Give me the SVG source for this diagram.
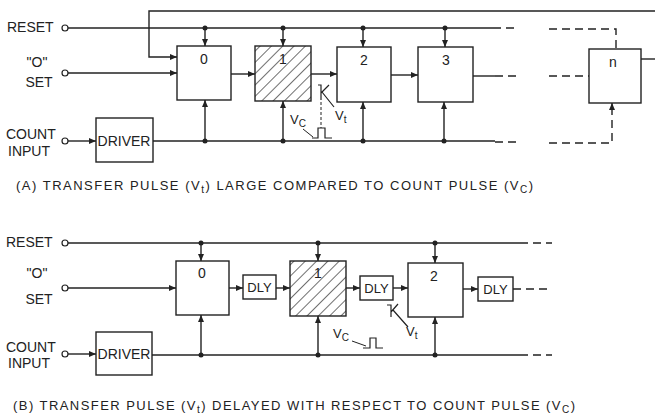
<svg xmlns="http://www.w3.org/2000/svg" width="655" height="417" viewBox="0 0 655 417">
<style>
.ln{stroke:#222;stroke-width:1.4;fill:none}
.ds{stroke-dasharray:8 5}
.dd{stroke-dasharray:3 2;stroke-width:1}
.box{fill:#fff;stroke:#222;stroke-width:1.4}
.hatch{fill:url(#hp);stroke:#222;stroke-width:1.4}
.t{font-family:"Liberation Sans",Arial,sans-serif;fill:#222;font-size:14px}
.lb{font-size:14px;text-anchor:middle}
.dl{font-size:13px;text-anchor:middle}
.sm{font-size:13px}
.sub{font-size:10px}
.cap{font-size:13px}
.dot{fill:#222}
.term{fill:#fff;stroke:#222;stroke-width:1.2}
</style>
<defs>
<marker id="ar" markerWidth="7" markerHeight="6" refX="7" refY="3" orient="auto" markerUnits="userSpaceOnUse">
<path d="M0,0 L7,3 L0,6 z" fill="#222"/>
</marker>
<pattern id="hp" width="8" height="8" patternUnits="userSpaceOnUse" patternTransform="rotate(45)">
<rect width="8" height="8" fill="#fff"/>
<line x1="0" y1="0" x2="0" y2="8" stroke="#222" stroke-width="1.3"/>
</pattern>
</defs>
<rect width="655" height="417" fill="#fff"/>

<g id="connectors">
<!-- A -->
<path class="ln" d="M68,28 H493"/>
<path class="ln ds" d="M493,28 H519 M549,29 H616 V49"/>
<path class="ln" d="M205,28 V46" marker-end="url(#ar)"/>
<path class="ln" d="M283,28 V46" marker-end="url(#ar)"/>
<path class="ln" d="M363,28 V47" marker-end="url(#ar)"/>
<path class="ln" d="M445,28 V47" marker-end="url(#ar)"/>
<path class="ln" d="M655,11 H149 V57 H177" marker-end="url(#ar)"/>
<path class="ln" d="M68,73 H177" marker-end="url(#ar)"/>
<path class="ln" d="M231,74 H255" marker-end="url(#ar)"/>
<path class="ln" d="M311,74 H337" marker-end="url(#ar)"/>
<path class="ln" d="M391,75 H418" marker-end="url(#ar)"/>
<path class="ln" d="M473,76 H495"/>
<path class="ln ds" d="M495,76 H519 M549,76 H589"/>
<path class="ln" d="M641,59 H655"/>
<path class="ln" d="M68,141 H96" marker-end="url(#ar)"/>
<path class="ln" d="M153,141 H495"/>
<path class="ln ds" d="M495,142 H519 M549,143 H612 V104"/>
<path class="ln" d="M612,110 V103" marker-end="url(#ar)"/>
<path class="ln" d="M205,141 V100" marker-end="url(#ar)"/>
<path class="ln" d="M283,141 V101" marker-end="url(#ar)"/>
<path class="ln" d="M363,141 V102" marker-end="url(#ar)"/>
<path class="ln" d="M444,141 V102" marker-end="url(#ar)"/>
<!-- B -->
<path class="ln" d="M68,243 H520"/>
<path class="ln ds" d="M520,243 H552"/>
<path class="ln" d="M201,243 V261" marker-end="url(#ar)"/>
<path class="ln" d="M318,243 V261" marker-end="url(#ar)"/>
<path class="ln" d="M435,243 V263" marker-end="url(#ar)"/>
<path class="ln" d="M68,288 H176" marker-end="url(#ar)"/>
<path class="ln" d="M229,288 H243" marker-end="url(#ar)"/>
<path class="ln" d="M276,288 H290" marker-end="url(#ar)"/>
<path class="ln" d="M346,288 H360" marker-end="url(#ar)"/>
<path class="ln" d="M393,288 H408" marker-end="url(#ar)"/>
<path class="ln" d="M463,289 H478" marker-end="url(#ar)"/>
<path class="ln ds" d="M513,289 H552"/>
<path class="ln" d="M68,354 H96" marker-end="url(#ar)"/>
<path class="ln" d="M152,355 H520"/>
<path class="ln ds" d="M520,355 H552"/>
<path class="ln" d="M201,355 V315" marker-end="url(#ar)"/>
<path class="ln" d="M318,355 V316" marker-end="url(#ar)"/>
<path class="ln" d="M435,355 V317" marker-end="url(#ar)"/>
<!-- junction dots -->
<circle class="dot" cx="205" cy="28" r="2.5"/>
<circle class="dot" cx="283" cy="28" r="2.5"/>
<circle class="dot" cx="363" cy="28" r="2.5"/>
<circle class="dot" cx="445" cy="28" r="2.5"/>
<circle class="dot" cx="205" cy="141" r="2.5"/>
<circle class="dot" cx="283" cy="141" r="2.5"/>
<circle class="dot" cx="363" cy="141" r="2.5"/>
<circle class="dot" cx="444" cy="141" r="2.5"/>
<circle class="dot" cx="201" cy="243" r="2.5"/>
<circle class="dot" cx="318" cy="243" r="2.5"/>
<circle class="dot" cx="435" cy="243" r="2.5"/>
<circle class="dot" cx="201" cy="355" r="2.5"/>
<circle class="dot" cx="318" cy="355" r="2.5"/>
<circle class="dot" cx="435" cy="355" r="2.5"/>
</g>

<g id="inputs-a">
<circle class="term" cx="65" cy="28" r="3"/>
<circle class="term" cx="65" cy="73" r="3"/>
<circle class="term" cx="65" cy="141" r="3"/>
<text class="t" x="7" y="32">RESET</text>
<text class="t" x="37" y="67" text-anchor="middle">"O"</text>
<text class="t" x="39" y="87" text-anchor="middle">SET</text>
<text class="t" x="6" y="139">COUNT</text>
<text class="t" x="8" y="156">INPUT</text>
</g>
<g id="driver-a">
<rect class="box" x="96" y="118" width="57" height="44"/>
<text class="t lb" x="124" y="146">DRIVER</text>
</g>
<g id="a0"><rect class="box" x="177" y="46" width="54" height="54"/><text class="t lb" x="204" y="64">0</text></g>
<g id="a1"><rect class="hatch" x="255" y="46" width="56" height="55"/><text class="t lb" x="283" y="64">1</text></g>
<g id="a2"><rect class="box" x="337" y="47" width="54" height="55"/><text class="t lb" x="364" y="65">2</text></g>
<g id="a3"><rect class="box" x="418" y="47" width="55" height="55"/><text class="t lb" x="446" y="65">3</text></g>
<g id="an"><rect class="box" x="589" y="49" width="52" height="54"/><text class="t lb" x="613" y="67">n</text></g>

<g id="pulses-a">
<path class="ln" style="stroke-width:1.2" d="M318,85 H321 V100 M321,93 L329,85 M322,92 L334,107"/>
<path class="ln dd" d="M321,102 V128"/>
<path class="ln" style="stroke-width:1.2" d="M312,138 H318 V128 H325 V138 H332"/>
<path class="ln" style="stroke-width:1" d="M303,129 L313,137"/>
<text class="t sm" x="290" y="124">V<tspan class="sub" dy="3">C</tspan></text>
<text class="t sm" x="335" y="120">V<tspan class="sub" dy="3">t</tspan></text>
</g>
<text class="t cap" x="16" y="190" textLength="517" lengthAdjust="spacing">(A) TRANSFER PULSE (V<tspan class="sub" dy="3">t</tspan><tspan dy="-3">) LARGE  COMPARED TO COUNT PULSE (V</tspan><tspan class="sub" dy="3">C</tspan><tspan dy="-3">)</tspan></text>

<g id="inputs-b">
<circle class="term" cx="65" cy="243" r="3"/>
<circle class="term" cx="65" cy="288" r="3"/>
<circle class="term" cx="65" cy="354" r="3"/>
<text class="t" x="6" y="247">RESET</text>
<text class="t" x="37" y="278" text-anchor="middle">"O"</text>
<text class="t" x="39" y="304" text-anchor="middle">SET</text>
<text class="t" x="6" y="352">COUNT</text>
<text class="t" x="8" y="368">INPUT</text>
</g>
<g id="driver-b">
<rect class="box" x="96" y="332" width="56" height="43"/>
<text class="t lb" x="124" y="359">DRIVER</text>
</g>
<g id="b0"><rect class="box" x="176" y="261" width="53" height="54"/><text class="t lb" x="202" y="278">0</text></g>
<g id="bd1"><rect class="box" x="243" y="275" width="33" height="24"/><text class="t dl" x="259.5" y="292">DLY</text></g>
<g id="b1"><rect class="hatch" x="290" y="261" width="56" height="55"/><text class="t lb" x="318" y="278">1</text></g>
<g id="bd2"><rect class="box" x="360" y="276" width="33" height="24"/><text class="t dl" x="376.5" y="293">DLY</text></g>
<g id="b2"><rect class="box" x="408" y="263" width="55" height="54"/><text class="t lb" x="434" y="281">2</text></g>
<g id="bd3"><rect class="box" x="478" y="277" width="35" height="24"/><text class="t dl" x="495.5" y="294">DLY</text></g>

<g id="pulses-b">
<path class="ln" style="stroke-width:1.2" d="M387,305 H391 V317 M391,312 L398,304 M393,310 L408,327"/>
<path class="ln" style="stroke-width:1.2" d="M363,348 H370 V338 H376 V348 H383"/>
<path class="ln" style="stroke-width:1" d="M352,341 L366,346"/>
<text class="t sm" x="333" y="338">V<tspan class="sub" dy="3">C</tspan></text>
<text class="t sm" x="406" y="336">V<tspan class="sub" dy="3">t</tspan></text>
</g>
<text class="t cap" x="13" y="410" textLength="562" lengthAdjust="spacing">(B) TRANSFER PULSE (V<tspan class="sub" dy="3">t</tspan><tspan dy="-3">) DELAYED WITH RESPECT TO COUNT PULSE (V</tspan><tspan class="sub" dy="3">C</tspan><tspan dy="-3">)</tspan></text>
</svg>
